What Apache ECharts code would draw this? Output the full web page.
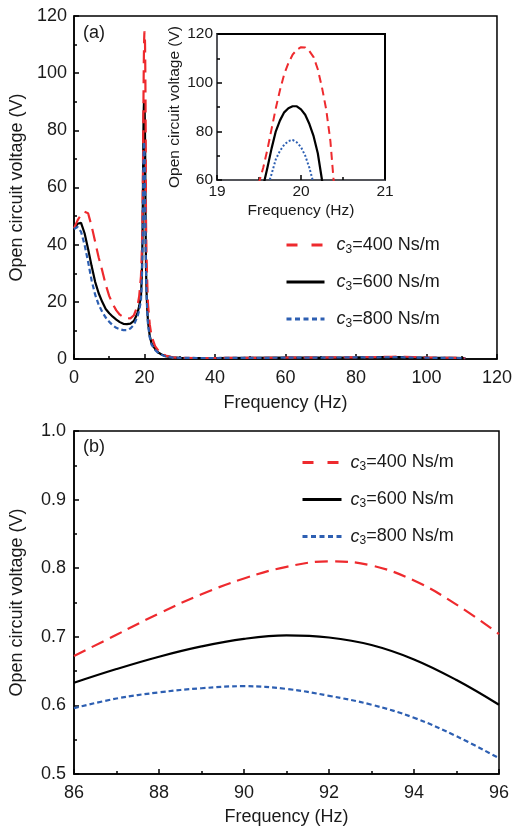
<!DOCTYPE html>
<html>
<head>
<meta charset="utf-8">
<script src="https://cdn.jsdelivr.net/npm/echarts@6/dist/echarts.min.js"></script>
<style>html,body{margin:0;padding:0;background:#fff}#c{width:515px;height:829px}</style>
</head>
<body>
<div id="c"></div>
<script>
// ---------- Panel (a) data: frequency (Hz) and open circuit voltage (V) ----------
var freqA = [0,1,2,3,4,5,6,7,8,9,10,11,12,13,14,15,16,17,18,18.5,19,19.2,19.3,19.4,
  19.45,19.5,19.55,19.6,19.65,19.7,19.75,19.8,19.85,19.9,19.95,20,20.05,20.1,20.15,20.2,20.25,20.3,20.35,20.4,20.45,
  20.5,20.6,20.8,21,21.5,22,23,24,25,26,28,30,35,40,50,60,70,80,
  86,88,90,92,94,96,100,104,108,111];
var voltA400 = [45.7,48.5,50.5,51.5,51,46.5,41,35.5,31,26,22,19.2,17,15.5,14.7,14.3,14.2,15.3,18.5,22,29,36,41,48,
  53,59,65,72.5,81,89.5,97,103.5,108,111.5,113.5,114.6,114.5,113,110.5,105.5,98,89,76,55,47,
  42,35,26,19,12,8,4.5,2.8,1.8,1.2,0.6,0.4,0.35,0.35,0.4,0.45,0.5,0.6,
  0.67,0.73,0.78,0.81,0.78,0.70,0.55,0.45,0.38,0.3];
var voltA600 = [45.5,47.3,47.6,44,38.5,32.5,27,23,20,17.5,16,14.8,13.8,12.9,12.3,12.2,12.4,13.3,16,18.5,22,28,33,40,
  44,51,57.5,65,73,80,84.5,87.8,89.5,90.3,90.3,89,86.8,83,78,71,60,50,42,36,31,
  28,23,17,13,8,5.5,3.5,2.2,1.5,1,0.55,0.4,0.35,0.35,0.4,0.45,0.5,0.57,
  0.633,0.671,0.697,0.699,0.667,0.601,0.5,0.42,0.36,0.3];
var voltA800 = [45.5,46.2,44.5,40,34,27.5,22.5,19,16.5,14.5,13,11.8,10.9,10.4,10.1,10.1,10.7,12,14.8,17,20.5,26,30,36,
  40,45,51,57,62.5,68.5,72,74.5,76,76.5,75.5,73.5,70,65,58.5,52,46,41,37,33,30,
  27,22,16,12,7.5,5,3.2,2,1.4,0.9,0.5,0.4,0.35,0.35,0.4,0.45,0.5,0.55,
  0.596,0.619,0.628,0.614,0.582,0.523,0.45,0.4,0.35,0.3];

// ---------- Panel (b) data ----------
var freqB = [86,87,88,89,90,91,92,93,94,95,96];
var voltB400 = [0.672,0.703,0.734,0.762,0.785,0.802,0.810,0.804,0.782,0.747,0.704];
var voltB600 = [0.633,0.653,0.671,0.686,0.697,0.702,0.699,0.688,0.667,0.637,0.601];
var voltB800 = [0.596,0.610,0.619,0.625,0.628,0.624,0.614,0.601,0.582,0.555,0.523];

var seriesNames = ['c3=400 Ns/m', 'c3=600 Ns/m', 'c3=800 Ns/m'];
var panelLabels = ['(a)', '(b)'];

function pairs(xs, ys) { return xs.map(function (x, i) { return [x, ys[i]]; }); }

var FONT = 'Liberation Sans, Arial, sans-serif';
var RED = '#ee2a2e', BLACK = '#000000', BLUE = '#2d5fb2';

function valAxis(o) {
  var base = {
    type: 'value',
    axisLine: { show: true, onZero: false, lineStyle: { color: '#000', width: 1.5 } },
    axisTick: { show: true, inside: true, length: 5, lineStyle: { color: '#000', width: 1.5 } },
    minorTick: { show: true, splitNumber: 2, length: 3, lineStyle: { color: '#000', width: 1.5 } },
    splitLine: { show: false },
    axisLabel: { color: '#1a1a1a', fontSize: 18, fontFamily: FONT, showMinLabel: true, showMaxLabel: true },
    nameLocation: 'middle',
    nameTextStyle: { color: '#1a1a1a', fontSize: 18, fontFamily: FONT }
  };
  for (var k in o) {
    if (typeof o[k] === 'object' && base[k] && !Array.isArray(o[k])) {
      base[k] = Object.assign({}, base[k], o[k]);
    } else base[k] = o[k];
  }
  return base;
}

function legendFmt(pad) {
  return {
    formatter: function (name) {
      var v = name.split('=')[1];
      return '{i|c}{s|3}{n|=' + v + '}';
    },
    rich: {
      i: { fontStyle: 'italic', fontSize: 18, fontFamily: FONT, color: '#1a1a1a', padding: [0, 0, 0, pad] },
      s: { fontSize: 12, fontFamily: FONT, color: '#1a1a1a', padding: [9, 0, 0, 0] },
      n: { fontSize: 18, fontFamily: FONT, color: '#1a1a1a' }
    }
  };
}

var HIDE = { opacity: 0, color: 'rgba(0,0,0,0)', borderWidth: 0 };
function legendData() {
  return [
    { name: seriesNames[0], itemStyle: HIDE, lineStyle: { color: RED, width: 3, type: [11, 14], opacity: 1 } },
    { name: seriesNames[1], itemStyle: HIDE, lineStyle: { color: BLACK, width: 3, type: 'solid', opacity: 1 } },
    { name: seriesNames[2], itemStyle: HIDE, lineStyle: { color: BLUE, width: 3, type: [5, 3.5], opacity: 1 } }
  ];
}

var lfA = legendFmt(7), lfB = legendFmt(4);

var option = {
  backgroundColor: '#fff',
  animation: false,
  graphic: [
    { type: 'text', left: 83, top: 24, style: { text: panelLabels[0], font: '18px ' + FONT, fill: '#1a1a1a' } },
    { type: 'text', left: 83, top: 438, style: { text: panelLabels[1], font: '18px ' + FONT, fill: '#1a1a1a' } }
  ],
  grid: [
    { left: 73, top: 16, width: 426, height: 343, show: true, borderColor: '#000', borderWidth: 1.5, backgroundColor: 'transparent' },
    { left: 217, top: 34, width: 168, height: 146, show: true, borderColor: '#000', borderWidth: 2, backgroundColor: '#fff', z: 5 },
    { left: 73, top: 431, width: 426, height: 343, show: true, borderColor: '#000', borderWidth: 1.5, backgroundColor: 'transparent' }
  ],
  xAxis: [
    valAxis({ gridIndex: 0, min: 0, max: 120, interval: 20, name: 'Frequency (Hz)', nameGap: 35,
      axisLabel: { margin: 10 } }),
    valAxis({ gridIndex: 1, min: 19, max: 21, interval: 1, name: 'Frequency (Hz)', nameGap: 23, z: 6,
      axisLabel: { margin: 4, fontSize: 15.5 }, nameTextStyle: { fontSize: 15.5 },
      axisLine: { lineStyle: { width: 2 } } }),
    valAxis({ gridIndex: 2, min: 86, max: 96, interval: 2, name: 'Frequency (Hz)', nameGap: 34,
      axisLabel: { margin: 10 } })
  ],
  yAxis: [
    valAxis({ gridIndex: 0, min: 0, max: 120, interval: 20, name: 'Open circuit voltage (V)', nameGap: 48,
      axisLabel: { margin: 7 } }),
    valAxis({ gridIndex: 1, min: 60, max: 120, interval: 20, name: 'Open circuit voltage (V)', nameGap: 34, z: 6,
      axisLabel: { margin: 4, fontSize: 15.5 }, nameTextStyle: { fontSize: 15.5 },
      axisLine: { lineStyle: { width: 2 } } }),
    valAxis({ gridIndex: 2, min: 0.5, max: 1.0, interval: 0.1, name: 'Open circuit voltage (V)', nameGap: 48,
      axisLabel: { margin: 8, formatter: function (v) { return v.toFixed(1); } } })
  ],
  legend: [
    { orient: 'vertical', left: 285, top: 236, padding: 0, itemWidth: 38, itemHeight: 14, itemGap: 17.5,
      data: legendData(), formatter: lfA.formatter, textStyle: { rich: lfA.rich, fontSize: 18, fontFamily: FONT },
      selectedMode: false },
    { orient: 'vertical', left: 301, top: 453.5, padding: 0, itemWidth: 39, itemHeight: 14, itemGap: 17.5,
      data: legendData(), formatter: lfB.formatter, textStyle: { rich: lfB.rich, fontSize: 18, fontFamily: FONT },
      selectedMode: false }
  ],
  series: [
    // panel (a)
    { name: seriesNames[0], type: 'line', xAxisIndex: 0, yAxisIndex: 0, data: pairs(freqA, voltA400), symbol: 'none', z: 3,
      lineStyle: { color: RED, width: 2.2, type: [13, 7] }, itemStyle: { color: RED } },
    { name: seriesNames[1], type: 'line', xAxisIndex: 0, yAxisIndex: 0, data: pairs(freqA, voltA600), symbol: 'none', z: 2,
      lineStyle: { color: BLACK, width: 2.2 }, itemStyle: { color: BLACK } },
    { name: seriesNames[2], type: 'line', xAxisIndex: 0, yAxisIndex: 0, data: pairs(freqA, voltA800), symbol: 'none', z: 4,
      lineStyle: { color: BLUE, width: 2.2, type: [5, 3] }, itemStyle: { color: BLUE } },
    // inset
    { name: seriesNames[0], type: 'line', xAxisIndex: 1, yAxisIndex: 1, data: pairs(freqA, voltA400), symbol: 'none', z: 7, clip: true,
      lineStyle: { color: RED, width: 2, type: [8, 5] }, itemStyle: { color: RED } },
    { name: seriesNames[1], type: 'line', xAxisIndex: 1, yAxisIndex: 1, data: pairs(freqA, voltA600), symbol: 'none', z: 7, clip: true,
      lineStyle: { color: BLACK, width: 2.2 }, itemStyle: { color: BLACK } },
    { name: seriesNames[2], type: 'line', xAxisIndex: 1, yAxisIndex: 1, data: pairs(freqA, voltA800), symbol: 'none', z: 7, clip: true,
      lineStyle: { color: BLUE, width: 2, type: [2, 2] }, itemStyle: { color: BLUE } },
    // panel (b)
    { name: seriesNames[0], type: 'line', xAxisIndex: 2, yAxisIndex: 2, data: pairs(freqB, voltB400), symbol: 'none', smooth: 0.4,
      lineStyle: { color: RED, width: 2.2, type: [13, 7] }, itemStyle: { color: RED } },
    { name: seriesNames[1], type: 'line', xAxisIndex: 2, yAxisIndex: 2, data: pairs(freqB, voltB600), symbol: 'none', smooth: 0.4,
      lineStyle: { color: BLACK, width: 2.2 }, itemStyle: { color: BLACK } },
    { name: seriesNames[2], type: 'line', xAxisIndex: 2, yAxisIndex: 2, data: pairs(freqB, voltB800), symbol: 'none', smooth: 0.4,
      lineStyle: { color: BLUE, width: 2.2, type: [5, 3] }, itemStyle: { color: BLUE } }
  ]
};

var chart = echarts.init(document.getElementById('c'), null, { renderer: 'canvas' });
chart.setOption(option);
</script>
</body>
</html>
